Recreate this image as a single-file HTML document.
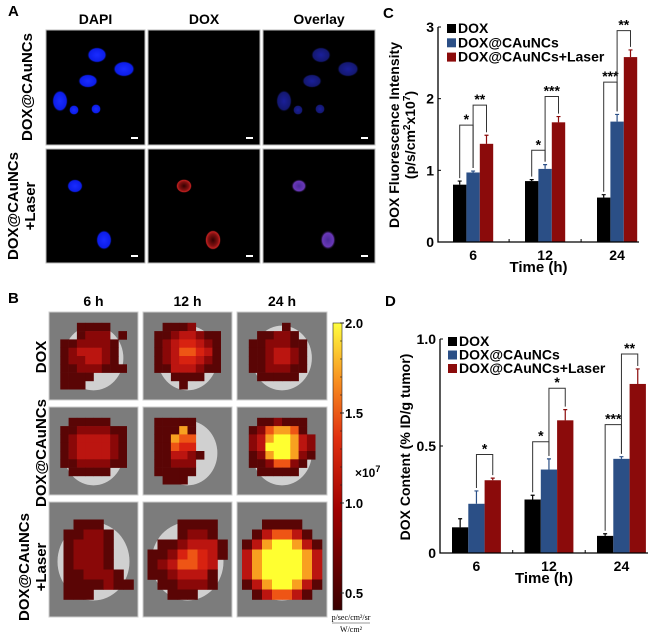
<!DOCTYPE html>
<html><head><meta charset="utf-8"><style>
body{margin:0;background:#fff}
svg{display:block;font-family:"Liberation Sans",Arial,sans-serif;font-weight:bold}
</style></head><body>
<svg id="fig" width="662" height="639" viewBox="0 0 662 639">
<defs>
<radialGradient id="blob"><stop offset="0" stop-color="#1a2cff"/><stop offset="0.8" stop-color="#0c1de8"/><stop offset="1" stop-color="#000" stop-opacity="0"/></radialGradient>
<radialGradient id="blobDim"><stop offset="0" stop-color="#1a1f9a"/><stop offset="0.8" stop-color="#141870"/><stop offset="1" stop-color="#000" stop-opacity="0"/></radialGradient>
<radialGradient id="ring"><stop offset="0" stop-color="#300"/><stop offset="0.6" stop-color="#801010"/><stop offset="0.85" stop-color="#c02020"/><stop offset="1" stop-color="#000" stop-opacity="0"/></radialGradient>
<radialGradient id="ringP"><stop offset="0" stop-color="#4a2a9a"/><stop offset="0.7" stop-color="#6a38b8"/><stop offset="1" stop-color="#000" stop-opacity="0"/></radialGradient>
<linearGradient id="cbar" x1="0" y1="1" x2="0" y2="0"><stop offset="0" stop-color="#3a0000"/><stop offset="0.35" stop-color="#a00000"/><stop offset="0.6" stop-color="#e03010"/><stop offset="0.8" stop-color="#f89020"/><stop offset="1" stop-color="#ffff40"/></linearGradient>
</defs>
<g id="panelA"></g>
<g id="panelB"></g>
<g id="panelC"></g>
<g id="panelD"></g>
</svg>
<script>
// ---------- Chart C data ----------
const categories = ["6", "12", "24"];
const seriesNames = ["DOX", "DOX@CAuNCs", "DOX@CAuNCs+Laser"];
const seriesColors = ["#000000", "#2b4f86", "#8b0b0b"];
const cDox = [0.80, 0.85, 0.62];
const cCaunc = [0.97, 1.02, 1.68];
const cLaser = [1.37, 1.67, 2.58];
const cDoxErr = [0.05, 0.02, 0.04];
const cCauncErr = [0.02, 0.06, 0.10];
const cLaserErr = [0.12, 0.08, 0.10];
const cTicks = [0, 1, 2, 3];
const cTickLabels = ["0", "1", "2", "3"];
// brackets: [group, barA, barB, topValue, label]
const cSig = [[0,0,1,1.63,"*"],[0,1,2,1.91,"**"],[1,0,1,1.28,"*"],[1,1,2,2.03,"***"],[2,0,1,2.23,"***"],[2,1,2,2.95,"**"]];
// ---------- Chart D data ----------
const dDox = [0.12, 0.25, 0.08];
const dCaunc = [0.23, 0.39, 0.44];
const dLaser = [0.34, 0.62, 0.79];
const dDoxErr = [0.04, 0.02, 0.01];
const dCauncErr = [0.06, 0.05, 0.01];
const dLaserErr = [0.01, 0.05, 0.07];
const dTicks = [0, 0.5, 1.0];
const dTickLabels = ["0", "0.5", "1.0"];
const dSig = [[0,1,2,0.46,"*"],[1,0,1,0.52,"*"],[1,1,2,0.77,"*"],[2,0,1,0.60,"***"],[2,1,2,0.93,"**"]];
// ---------- Colorbar ----------
const cbTicks = [2.0, 1.5, 1.0, 0.5];

const NS="http://www.w3.org/2000/svg";
function mk(parent,tag,attrs,text){const e=document.createElementNS(NS,tag);for(const k in attrs)e.setAttribute(k,attrs[k]);if(text!==undefined)e.textContent=text;parent.appendChild(e);return e;}

function drawChart(g,cfg){
  const {x0,x1,y0,y1,vmax,groupLeft,step,bw,vals,errs,ticks,tickLabels,sig,legend,titleLines,titleX,titleY,xTitleY,fs}=cfg;
  const yS=v=>y0-(v/vmax)*(y0-y1);
  const xB=(gi,bi)=>groupLeft+gi*step+bi*bw;
  vals.forEach((arr,si)=>arr.forEach((v,gi)=>{
    const r=mk(g,'rect',{x:xB(gi,si),y:yS(v),width:bw,height:y0-yS(v),fill:seriesColors[si]});
    
    
    const cx=xB(gi,si)+bw/2, te=yS(v+errs[si][gi]);
    const e=mk(g,'path',{d:`M${cx},${yS(v)}V${te}M${cx-2},${te}H${cx+2}`,stroke:seriesColors[si],'stroke-width':1.2,fill:'none'});
    
    
  }));
  const ax=mk(g,'path',{d:`M${x0},${y1}V${y0}H${x1}`,stroke:'#000','stroke-width':1.3,fill:'none'});
  
  
  ticks.forEach((t,i)=>{
    mk(g,'line',{x1:x0,x2:x0+3,y1:yS(t),y2:yS(t),stroke:'#000'});
    const tl=mk(g,'text',{x:x0-4,y:yS(t)+5,'text-anchor':'end','font-size':fs},tickLabels[i]);
    
    
  });
  categories.forEach((c,gi)=>{
    const cx=groupLeft+gi*step+1.5*bw;
    if(gi<categories.length-1) mk(g,'line',{x1:cx+step/2,x2:cx+step/2,y1:y0,y2:y0-3,stroke:'#000'});
    const tl=mk(g,'text',{x:cx,y:y0+18,'text-anchor':'middle','font-size':fs},c);
    
    
  });
  const xt=mk(g,'text',{x:(x0+x1)/2,y:xTitleY,'text-anchor':'middle','font-size':fs+1},'Time (h)');
  
  
  titleLines.forEach((ln,i)=>{
    const t=mk(g,'text',{x:0,y:0,'text-anchor':'middle','font-size':fs,transform:`translate(${titleX+i*16},${titleY}) rotate(-90)`});
    t.innerHTML=ln;
    
    
  });
  sig.forEach(s=>{
    const [gi,a,b,top,lab]=s;
    const xa=xB(gi,a)+bw/2, xb=xB(gi,b)+bw/2;
    const ya=yS(vals[a][gi]+errs[a][gi])-3, yb=yS(vals[b][gi]+errs[b][gi])-3, yt=yS(top);
    const p=mk(g,'path',{d:`M${xa},${ya}V${yt}H${xb}V${yb}`,stroke:'#333','stroke-width':1,fill:'none'});
    
    
    const t=mk(g,'text',{x:(xa+xb)/2,y:yt-1,'text-anchor':'middle','font-size':fs},lab);
    
    
  });
  seriesNames.forEach((n,i)=>{
    const ly=legend.y+i*legend.dy;
    const r=mk(g,'rect',{x:legend.x,y:ly-9,width:9,height:9,fill:seriesColors[i]});
    
    
    const t=mk(g,'text',{x:legend.x+11,y:ly,'font-size':fs},n);
    
    
  });
}

drawChart(document.getElementById('panelC'),{x0:438,x1:639,y0:242,y1:27,vmax:3,groupLeft:453,step:72,bw:13.4,
  vals:[cDox,cCaunc,cLaser],errs:[cDoxErr,cCauncErr,cLaserErr],ticks:cTicks,tickLabels:cTickLabels,sig:cSig,
  legend:{x:447,y:33,dy:14.3},titleLines:['DOX Fluorescence Intensity','(p/s/cm<tspan font-size="10" dy="-5">2</tspan><tspan dy="5">x10</tspan><tspan font-size="10" dy="-5">7</tspan><tspan dy="5">)</tspan>'],
  titleX:399,titleY:135,xTitleY:272,fs:14});
drawChart(document.getElementById('panelD'),{x0:440,x1:648,y0:553,y1:339,vmax:1,groupLeft:452,step:72.5,bw:16.3,
  vals:[dDox,dCaunc,dLaser],errs:[dDoxErr,dCauncErr,dLaserErr],ticks:dTicks,tickLabels:dTickLabels,sig:dSig,
  legend:{x:448,y:346,dy:13.5},titleLines:['DOX Content (% ID/g tumor)'],
  titleX:410,titleY:447,xTitleY:583,fs:14});

[['A',8,16],['B',8,303],['C',383,18],['D',385,306]].forEach(([l,x,y])=>{
  const t=mk(document.getElementById('fig'),'text',{x,y,'font-size':15},l);
  
  
});

// ---------- Panel A ----------
const gA=document.getElementById('panelA');
const aCols=[[46,99],[148,112],[263,112]], aRows=[[30,115],[149,114]];
const aHead=['DAPI','DOX','Overlay'];
aHead.forEach((h,i)=>{const t=mk(gA,'text',{x:aCols[i][0]+aCols[i][1]/2,y:24,'text-anchor':'middle','font-size':14},h);
  });
const nuc1=[[97,55,8,6],[124,69,9,6],[88,81,8,5],[60,101,6,9],[74,110,3,3],[96,109,3,3]];
const nuc2=[[75,186,6,5],[104,240,6,8]];
aRows.forEach((r,ri)=>aCols.forEach((c,ci)=>{
  const t=mk(gA,'rect',{x:c[0],y:r[0],width:c[1],height:r[1],fill:'#000',stroke:'#bbb','stroke-width':1});
  
  const dx=aCols[ci][0]-aCols[0][0]+(ci>0?7:0);
  const list=ri===0?nuc1:nuc2;
  list.forEach(n=>{
    if(ri===0&&ci===1)return;
    const fill=ri===0?(ci===0?'url(#blob)':'url(#blobDim)'):(ci===0?'url(#blob)':ci===1?'url(#ring)':'url(#ringP)');
    mk(gA,'ellipse',{cx:n[0]+dx,cy:n[1],rx:n[2]+2,ry:n[3]+2,fill});
  });
  mk(gA,'rect',{x:c[0]+c[1]-14,y:r[0]+r[1]-8,width:7,height:2,fill:'#fff'});
}));
let t=mk(gA,'text',{'text-anchor':'middle','font-size':15,transform:'translate(32,87) rotate(-90)'},'DOX@CAuNCs');

t=mk(gA,'text',{'text-anchor':'middle','font-size':15,transform:'translate(18,206) rotate(-90)'},'DOX@CAuNCs');

t=mk(gA,'text',{'text-anchor':'middle','font-size':15,transform:'translate(35,206) rotate(-90)'},'+Laser');


// ---------- Panel B ----------
const gB=document.getElementById('panelB');
const bCols=[[49,89],[143,89],[237,90]], bRows=[[312,88],[407,88],[502,115]];
['6 h','12 h','24 h'].forEach((h,i)=>{const tt=mk(gB,'text',{x:bCols[i][0]+bCols[i][1]/2,y:306,'text-anchor':'middle','font-size':14},h);
  });
const pal={'1':'#5a0505','2':'#8a0808','3':'#bb1510','4':'#d82210','5':'#ee5515','6':'#f8a020','7':'#ffff30'};
const grids=[
 ["..1111..","..1222.1","1122221.","1233321.","1223321.","11222111","1111....","111....."],
 [".1112...","11233211","12344321","12355431","12344321","11333211","..1111..","...1...."],
 ["....1...",".11221..","1122211.","1123321.","1123321.","1122211.",".11111..","........"],
 [".11111..","11222211","12333321","12333321","12333321","11222211",".11111..","........"],
 ["11111...","11161...","11655...","11544...","113321..","11222...","11111...",".111...."],
 [".112111.","1256651.","23677632","23777632","12677621","1125521.",".11111..","........"],
 ["..111...",".11221..",".12221..",".12221..",".12221..",".112221.",".1111211",".111...."],
 ["...1111.","...1221.",".1123331","11245431","1235543.","1123331.",".112221.","..111..."],
 ["..1111..",".135531.","13677631","36777763","36777763","36777763","13677631",".135531."]];
let gi=0;
bRows.forEach((r,ri)=>bCols.forEach((c,ci)=>{
  const tile=mk(gB,'rect',{x:c[0],y:r[0],width:c[1],height:r[1],fill:'#7c7c7c',stroke:'#ccc','stroke-width':1});
  
  const bs=r[1]>100?10:8.3;
  mk(gB,'ellipse',{cx:c[0]+c[1]/2,cy:r[0]+r[1]/2+2,rx:3.6*bs,ry:3.9*bs,fill:'#d0d0d0'});
  const g=grids[gi++], ox=c[0]+c[1]/2-4*bs, oy=r[0]+r[1]/2-4*bs;
  g.forEach((row,yy)=>[...row].forEach((ch,xx)=>{if(ch!=='.')mk(gB,'rect',{x:ox+xx*bs,y:oy+yy*bs,width:bs+0.3,height:bs+0.3,fill:pal[ch]});}));
}));
t=mk(gB,'text',{'text-anchor':'middle','font-size':15,transform:'translate(46,357) rotate(-90)'},'DOX');

t=mk(gB,'text',{'text-anchor':'middle','font-size':15,transform:'translate(46,453) rotate(-90)'},'DOX@CAuNCs');

t=mk(gB,'text',{'text-anchor':'middle','font-size':15,transform:'translate(29,567) rotate(-90)'},'DOX@CAuNCs');

t=mk(gB,'text',{'text-anchor':'middle','font-size':15,transform:'translate(46,567) rotate(-90)'},'+Laser');

const cb=mk(gB,'rect',{x:333,y:323,width:9,height:287,fill:'url(#cbar)',stroke:'#222','stroke-width':0.6});

const cbY=v=>593-(v-0.5)/(1.5)*(593-323);
cbTicks.forEach(v=>{
  mk(gB,'line',{x1:340,x2:344,y1:cbY(v),y2:cbY(v),stroke:'#222'});
  const tt=mk(gB,'text',{x:345,y:cbY(v)+5,'font-size':13},v.toFixed(1));
  
});
for(let v=0.6;v<2.0;v+=0.1){mk(gB,'line',{x1:340,x2:342,y1:cbY(v),y2:cbY(v),stroke:'#222','stroke-width':0.6});}
t=mk(gB,'text',{x:355,y:477,'font-size':12});t.innerHTML='×10<tspan font-size="9" dy="-5">7</tspan>';

t=mk(gB,'text',{x:351,y:620,'text-anchor':'middle','font-size':8,'font-weight':'normal','font-family':'Liberation Serif'},'p/sec/cm²/sr');

mk(gB,'line',{x1:332,x2:370,y1:623,y2:623,stroke:'#333','stroke-width':0.5});
t=mk(gB,'text',{x:351,y:632,'text-anchor':'middle','font-size':8,'font-weight':'normal','font-family':'Liberation Serif'},'W/cm²');

</script>
</body></html>
